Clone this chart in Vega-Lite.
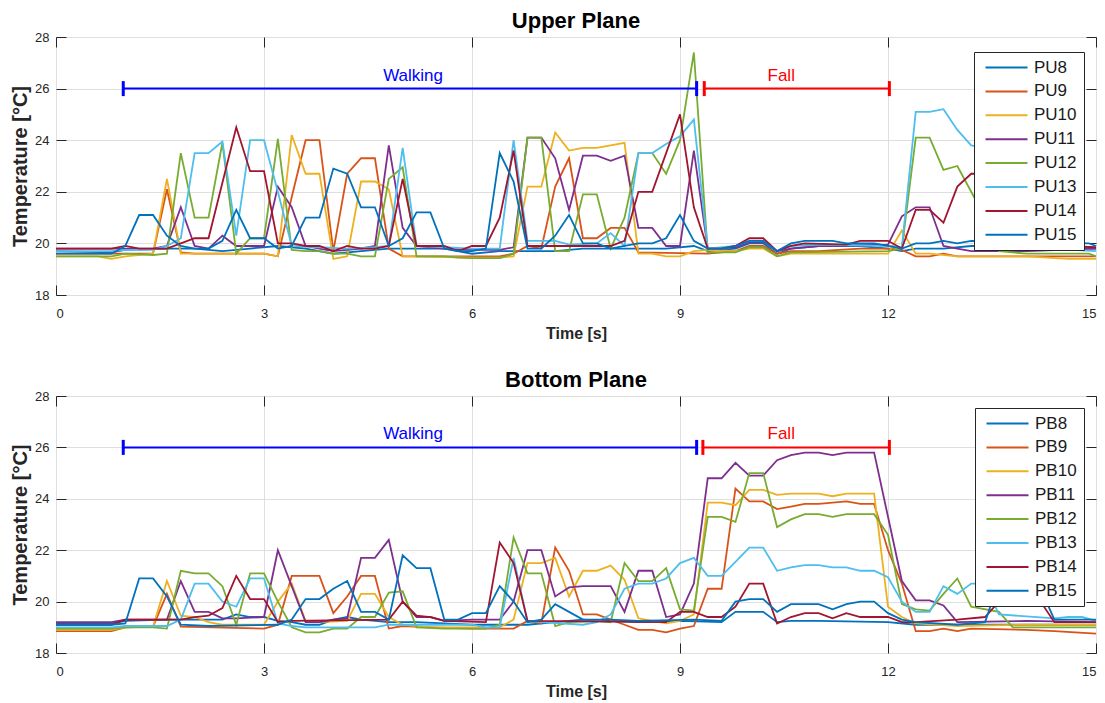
{
"$schema": "https://vega.github.io/schema/vega-lite/v6.json",
"background": "white",
"padding": {"left": 10, "top": 9, "right": 8, "bottom": 4},
"spacing": 26,
"config": {
  "font": "Liberation Sans",
  "view": {"stroke": "#262626", "strokeWidth": 1},
  "axis": {"labelFont": "Liberation Sans", "labelFontSize": 13, "labelColor": "#262626", "titleFont": "Liberation Sans", "titleFontWeight": "bold", "titleColor": "#262626", "gridColor": "#DFDFDF", "gridWidth": 1, "domain": false, "ticks": true, "tickSize": -10, "tickColor": "#262626", "tickWidth": 1},
  "axisX": {"labelPadding": 22, "titleFontSize": 16, "titlePadding": 5, "format": "d"},
  "axisY": {"labelPadding": 17, "titleFontSize": 20, "titlePadding": 4, "format": "d"},
  "title": {"font": "Liberation Sans", "fontSize": 22, "fontWeight": "bold", "color": "#000000", "offset": -1.5, "anchor": "middle"},
  "legend": {"title": null, "orient": "none", "fillColor": "#FFFFFF", "strokeColor": "#262626", "padding": 7, "cornerRadius": 0, "symbolType": "M-3,0H3", "symbolSize": 196, "symbolStrokeWidth": 2, "symbolOffset": 17, "labelOffset": 19, "labelFontSize": 17, "labelFont": "Liberation Sans", "labelColor": "#1A1A1A", "rowPadding": 5.9, "labelLimit": 0}
},
"resolve": {"scale": {"color": "independent"}, "legend": {"color": "independent"}},
"datasets": {
"phasesU": [{"phase": "Walking", "start": 0.97, "end": 9.24, "level": 26, "mid": 5.15}, {"phase": "Fall", "start": 9.35, "end": 12.02, "level": 26, "mid": 10.46}],
"phasesB": [{"phase": "Walking", "start": 0.97, "end": 9.24, "level": 26, "mid": 5.15}, {"phase": "Fall", "start": 9.33, "end": 12.02, "level": 26, "mid": 10.46}],
"upper": [
{"s":"PU8","t":0,"v":19.7},{"s":"PU8","t":0.8,"v":19.65},{"s":"PU8","t":1.0,"v":19.75},{"s":"PU8","t":1.6,"v":19.8},{"s":"PU8","t":2.0,"v":19.8},{"s":"PU8","t":2.4,"v":19.7},{"s":"PU8","t":2.8,"v":19.8},{"s":"PU8","t":3.2,"v":19.9},{"s":"PU8","t":3.6,"v":19.8},{"s":"PU8","t":4.0,"v":19.6},{"s":"PU8","t":4.4,"v":19.7},{"s":"PU8","t":4.8,"v":19.8},{"s":"PU8","t":5.2,"v":19.8},{"s":"PU8","t":5.6,"v":19.8},{"s":"PU8","t":6.0,"v":19.6},{"s":"PU8","t":6.4,"v":19.7},{"s":"PU8","t":6.8,"v":19.7},{"s":"PU8","t":7.2,"v":19.7},{"s":"PU8","t":7.6,"v":19.8},{"s":"PU8","t":8.0,"v":19.8},{"s":"PU8","t":8.4,"v":19.8},{"s":"PU8","t":8.8,"v":19.8},{"s":"PU8","t":9.2,"v":19.9},{"s":"PU8","t":9.4,"v":19.7},{"s":"PU8","t":9.8,"v":19.8},{"s":"PU8","t":10.0,"v":20.0},{"s":"PU8","t":10.2,"v":20.0},{"s":"PU8","t":10.4,"v":19.6},{"s":"PU8","t":10.6,"v":19.8},{"s":"PU8","t":11.0,"v":19.9},{"s":"PU8","t":11.6,"v":19.9},{"s":"PU8","t":12.0,"v":19.8},{"s":"PU8","t":12.2,"v":19.7},{"s":"PU8","t":12.4,"v":19.8},{"s":"PU8","t":12.8,"v":19.8},{"s":"PU8","t":13.2,"v":19.9},{"s":"PU8","t":14.0,"v":19.9},{"s":"PU8","t":15.0,"v":19.8},
{"s":"PU9","t":0,"v":19.6},{"s":"PU9","t":1.4,"v":19.6},{"s":"PU9","t":1.6,"v":22.1},{"s":"PU9","t":1.8,"v":19.65},{"s":"PU9","t":2.0,"v":19.6},{"s":"PU9","t":3.0,"v":19.6},{"s":"PU9","t":3.2,"v":19.5},{"s":"PU9","t":3.4,"v":21.8},{"s":"PU9","t":3.6,"v":24.0},{"s":"PU9","t":3.8,"v":24.0},{"s":"PU9","t":4.0,"v":19.7},{"s":"PU9","t":4.2,"v":22.7},{"s":"PU9","t":4.4,"v":23.3},{"s":"PU9","t":4.6,"v":23.3},{"s":"PU9","t":4.8,"v":19.8},{"s":"PU9","t":5.0,"v":19.5},{"s":"PU9","t":6.4,"v":19.5},{"s":"PU9","t":6.6,"v":19.6},{"s":"PU9","t":6.8,"v":19.9},{"s":"PU9","t":7.0,"v":19.8},{"s":"PU9","t":7.2,"v":22.2},{"s":"PU9","t":7.4,"v":23.3},{"s":"PU9","t":7.6,"v":20.2},{"s":"PU9","t":7.8,"v":20.2},{"s":"PU9","t":8.0,"v":20.6},{"s":"PU9","t":8.2,"v":20.6},{"s":"PU9","t":8.4,"v":19.65},{"s":"PU9","t":9.4,"v":19.6},{"s":"PU9","t":9.8,"v":19.7},{"s":"PU9","t":10.0,"v":19.9},{"s":"PU9","t":10.2,"v":19.9},{"s":"PU9","t":10.4,"v":19.6},{"s":"PU9","t":10.6,"v":19.7},{"s":"PU9","t":11.0,"v":19.7},{"s":"PU9","t":11.6,"v":19.8},{"s":"PU9","t":12.0,"v":19.8},{"s":"PU9","t":12.2,"v":19.75},{"s":"PU9","t":12.4,"v":19.5},{"s":"PU9","t":12.6,"v":19.5},{"s":"PU9","t":12.8,"v":19.6},{"s":"PU9","t":13.0,"v":19.5},{"s":"PU9","t":15.0,"v":19.5},
{"s":"PU10","t":0,"v":19.5},{"s":"PU10","t":0.6,"v":19.5},{"s":"PU10","t":0.8,"v":19.4},{"s":"PU10","t":1.0,"v":19.5},{"s":"PU10","t":1.4,"v":19.6},{"s":"PU10","t":1.6,"v":22.5},{"s":"PU10","t":1.8,"v":19.6},{"s":"PU10","t":3.0,"v":19.6},{"s":"PU10","t":3.2,"v":19.5},{"s":"PU10","t":3.4,"v":24.2},{"s":"PU10","t":3.6,"v":22.7},{"s":"PU10","t":3.8,"v":22.7},{"s":"PU10","t":4.0,"v":19.4},{"s":"PU10","t":4.2,"v":19.5},{"s":"PU10","t":4.4,"v":22.4},{"s":"PU10","t":4.6,"v":22.4},{"s":"PU10","t":4.8,"v":22.1},{"s":"PU10","t":5.0,"v":19.5},{"s":"PU10","t":5.2,"v":19.5},{"s":"PU10","t":6.0,"v":19.45},{"s":"PU10","t":6.4,"v":19.45},{"s":"PU10","t":6.6,"v":19.5},{"s":"PU10","t":6.8,"v":22.2},{"s":"PU10","t":7.0,"v":22.2},{"s":"PU10","t":7.2,"v":24.3},{"s":"PU10","t":7.4,"v":23.6},{"s":"PU10","t":7.6,"v":23.7},{"s":"PU10","t":7.8,"v":23.7},{"s":"PU10","t":8.0,"v":23.8},{"s":"PU10","t":8.2,"v":23.9},{"s":"PU10","t":8.4,"v":19.6},{"s":"PU10","t":8.6,"v":19.6},{"s":"PU10","t":8.8,"v":19.5},{"s":"PU10","t":9.0,"v":19.5},{"s":"PU10","t":9.2,"v":19.7},{"s":"PU10","t":9.4,"v":19.75},{"s":"PU10","t":9.8,"v":19.7},{"s":"PU10","t":10.0,"v":19.8},{"s":"PU10","t":10.2,"v":19.8},{"s":"PU10","t":10.4,"v":19.5},{"s":"PU10","t":10.6,"v":19.6},{"s":"PU10","t":12.0,"v":19.6},{"s":"PU10","t":12.2,"v":20.5},{"s":"PU10","t":12.4,"v":19.6},{"s":"PU10","t":12.6,"v":19.6},{"s":"PU10","t":13.0,"v":19.5},{"s":"PU10","t":14.0,"v":19.5},{"s":"PU10","t":14.6,"v":19.4},{"s":"PU10","t":15.0,"v":19.4},
{"s":"PU11","t":0,"v":19.8},{"s":"PU11","t":1.4,"v":19.8},{"s":"PU11","t":1.6,"v":19.9},{"s":"PU11","t":1.8,"v":21.4},{"s":"PU11","t":2.0,"v":19.9},{"s":"PU11","t":2.2,"v":19.8},{"s":"PU11","t":2.4,"v":20.3},{"s":"PU11","t":2.6,"v":19.9},{"s":"PU11","t":3.0,"v":19.9},{"s":"PU11","t":3.2,"v":22.2},{"s":"PU11","t":3.4,"v":21.4},{"s":"PU11","t":3.6,"v":19.9},{"s":"PU11","t":3.8,"v":19.8},{"s":"PU11","t":4.0,"v":19.7},{"s":"PU11","t":4.4,"v":19.8},{"s":"PU11","t":4.6,"v":19.9},{"s":"PU11","t":4.8,"v":23.8},{"s":"PU11","t":5.0,"v":20.6},{"s":"PU11","t":5.2,"v":19.9},{"s":"PU11","t":5.6,"v":19.8},{"s":"PU11","t":6.0,"v":19.75},{"s":"PU11","t":6.4,"v":19.75},{"s":"PU11","t":6.6,"v":19.85},{"s":"PU11","t":6.8,"v":24.1},{"s":"PU11","t":7.0,"v":24.1},{"s":"PU11","t":7.2,"v":23.3},{"s":"PU11","t":7.4,"v":21.3},{"s":"PU11","t":7.6,"v":23.4},{"s":"PU11","t":7.8,"v":23.4},{"s":"PU11","t":8.0,"v":23.2},{"s":"PU11","t":8.2,"v":23.4},{"s":"PU11","t":8.4,"v":20.6},{"s":"PU11","t":8.6,"v":20.6},{"s":"PU11","t":8.8,"v":19.9},{"s":"PU11","t":9.0,"v":19.9},{"s":"PU11","t":9.2,"v":23.6},{"s":"PU11","t":9.4,"v":19.8},{"s":"PU11","t":9.8,"v":19.85},{"s":"PU11","t":10.0,"v":20.05},{"s":"PU11","t":10.2,"v":20.05},{"s":"PU11","t":10.4,"v":19.7},{"s":"PU11","t":10.6,"v":19.8},{"s":"PU11","t":11.0,"v":19.9},{"s":"PU11","t":12.0,"v":19.95},{"s":"PU11","t":12.2,"v":21.05},{"s":"PU11","t":12.4,"v":21.4},{"s":"PU11","t":12.6,"v":21.4},{"s":"PU11","t":12.8,"v":19.9},{"s":"PU11","t":13.0,"v":19.8},{"s":"PU11","t":13.2,"v":19.7},{"s":"PU11","t":14.0,"v":19.7},{"s":"PU11","t":15.0,"v":19.8},
{"s":"PU12","t":0,"v":19.5},{"s":"PU12","t":0.8,"v":19.5},{"s":"PU12","t":1.0,"v":19.6},{"s":"PU12","t":1.4,"v":19.55},{"s":"PU12","t":1.6,"v":19.6},{"s":"PU12","t":1.8,"v":23.5},{"s":"PU12","t":2.0,"v":21.0},{"s":"PU12","t":2.2,"v":21.0},{"s":"PU12","t":2.4,"v":23.9},{"s":"PU12","t":2.6,"v":19.6},{"s":"PU12","t":2.8,"v":20.2},{"s":"PU12","t":3.0,"v":20.2},{"s":"PU12","t":3.2,"v":24.05},{"s":"PU12","t":3.4,"v":19.75},{"s":"PU12","t":3.6,"v":19.7},{"s":"PU12","t":3.8,"v":19.7},{"s":"PU12","t":4.0,"v":19.6},{"s":"PU12","t":4.2,"v":19.6},{"s":"PU12","t":4.4,"v":19.5},{"s":"PU12","t":4.6,"v":19.5},{"s":"PU12","t":4.8,"v":22.5},{"s":"PU12","t":5.0,"v":22.95},{"s":"PU12","t":5.2,"v":19.5},{"s":"PU12","t":5.6,"v":19.5},{"s":"PU12","t":5.8,"v":19.45},{"s":"PU12","t":6.0,"v":19.43},{"s":"PU12","t":6.4,"v":19.43},{"s":"PU12","t":6.6,"v":19.6},{"s":"PU12","t":6.8,"v":24.1},{"s":"PU12","t":7.0,"v":24.1},{"s":"PU12","t":7.2,"v":19.7},{"s":"PU12","t":7.4,"v":19.7},{"s":"PU12","t":7.6,"v":21.9},{"s":"PU12","t":7.8,"v":21.9},{"s":"PU12","t":8.0,"v":19.8},{"s":"PU12","t":8.2,"v":21.0},{"s":"PU12","t":8.4,"v":23.5},{"s":"PU12","t":8.6,"v":23.5},{"s":"PU12","t":8.8,"v":22.7},{"s":"PU12","t":9.0,"v":24.0},{"s":"PU12","t":9.2,"v":27.4},{"s":"PU12","t":9.4,"v":19.65},{"s":"PU12","t":9.8,"v":19.65},{"s":"PU12","t":10.0,"v":19.85},{"s":"PU12","t":10.2,"v":19.85},{"s":"PU12","t":10.4,"v":19.5},{"s":"PU12","t":10.6,"v":19.65},{"s":"PU12","t":12.0,"v":19.7},{"s":"PU12","t":12.2,"v":19.8},{"s":"PU12","t":12.4,"v":24.1},{"s":"PU12","t":12.6,"v":24.1},{"s":"PU12","t":12.8,"v":22.85},{"s":"PU12","t":13.0,"v":23.0},{"s":"PU12","t":13.2,"v":22.0},{"s":"PU12","t":13.4,"v":21.0},{"s":"PU12","t":13.6,"v":19.7},{"s":"PU12","t":14.0,"v":19.6},{"s":"PU12","t":14.9,"v":19.6},{"s":"PU12","t":15.0,"v":19.5},
{"s":"PU13","t":0,"v":19.7},{"s":"PU13","t":0.8,"v":19.7},{"s":"PU13","t":1.0,"v":19.75},{"s":"PU13","t":1.4,"v":19.75},{"s":"PU13","t":1.6,"v":19.9},{"s":"PU13","t":1.8,"v":20.2},{"s":"PU13","t":2.0,"v":23.5},{"s":"PU13","t":2.2,"v":23.5},{"s":"PU13","t":2.4,"v":23.95},{"s":"PU13","t":2.6,"v":20.3},{"s":"PU13","t":2.8,"v":24.0},{"s":"PU13","t":3.0,"v":24.0},{"s":"PU13","t":3.2,"v":22.0},{"s":"PU13","t":3.4,"v":19.9},{"s":"PU13","t":3.8,"v":19.85},{"s":"PU13","t":4.2,"v":19.8},{"s":"PU13","t":4.6,"v":19.85},{"s":"PU13","t":4.8,"v":19.9},{"s":"PU13","t":5.0,"v":23.7},{"s":"PU13","t":5.2,"v":19.9},{"s":"PU13","t":5.6,"v":19.85},{"s":"PU13","t":6.0,"v":19.8},{"s":"PU13","t":6.4,"v":19.8},{"s":"PU13","t":6.6,"v":24.0},{"s":"PU13","t":6.8,"v":20.1},{"s":"PU13","t":7.2,"v":20.1},{"s":"PU13","t":7.4,"v":19.95},{"s":"PU13","t":7.8,"v":20.0},{"s":"PU13","t":8.0,"v":20.4},{"s":"PU13","t":8.2,"v":19.9},{"s":"PU13","t":8.4,"v":23.5},{"s":"PU13","t":8.6,"v":23.5},{"s":"PU13","t":8.8,"v":23.85},{"s":"PU13","t":9.0,"v":24.15},{"s":"PU13","t":9.2,"v":24.8},{"s":"PU13","t":9.4,"v":19.8},{"s":"PU13","t":9.8,"v":19.9},{"s":"PU13","t":10.0,"v":20.1},{"s":"PU13","t":10.2,"v":20.1},{"s":"PU13","t":10.4,"v":19.7},{"s":"PU13","t":10.6,"v":19.9},{"s":"PU13","t":11.0,"v":19.95},{"s":"PU13","t":12.0,"v":19.9},{"s":"PU13","t":12.2,"v":19.85},{"s":"PU13","t":12.4,"v":25.1},{"s":"PU13","t":12.6,"v":25.1},{"s":"PU13","t":12.8,"v":25.2},{"s":"PU13","t":13.0,"v":24.4},{"s":"PU13","t":13.2,"v":23.8},{"s":"PU13","t":13.4,"v":23.7},{"s":"PU13","t":13.6,"v":19.9},{"s":"PU13","t":15.0,"v":19.7},
{"s":"PU14","t":0,"v":19.8},{"s":"PU14","t":0.8,"v":19.8},{"s":"PU14","t":1.0,"v":19.9},{"s":"PU14","t":1.2,"v":19.8},{"s":"PU14","t":1.6,"v":19.8},{"s":"PU14","t":1.8,"v":20.0},{"s":"PU14","t":2.0,"v":20.2},{"s":"PU14","t":2.2,"v":20.2},{"s":"PU14","t":2.6,"v":24.5},{"s":"PU14","t":2.8,"v":22.8},{"s":"PU14","t":3.0,"v":22.8},{"s":"PU14","t":3.2,"v":20.0},{"s":"PU14","t":3.4,"v":20.0},{"s":"PU14","t":3.6,"v":19.9},{"s":"PU14","t":3.8,"v":19.9},{"s":"PU14","t":4.0,"v":19.7},{"s":"PU14","t":4.2,"v":19.9},{"s":"PU14","t":4.4,"v":19.8},{"s":"PU14","t":4.6,"v":19.8},{"s":"PU14","t":4.8,"v":19.9},{"s":"PU14","t":5.0,"v":22.5},{"s":"PU14","t":5.2,"v":19.9},{"s":"PU14","t":5.6,"v":19.9},{"s":"PU14","t":5.8,"v":19.7},{"s":"PU14","t":6.0,"v":19.9},{"s":"PU14","t":6.2,"v":19.9},{"s":"PU14","t":6.4,"v":21.0},{"s":"PU14","t":6.6,"v":23.6},{"s":"PU14","t":6.8,"v":19.9},{"s":"PU14","t":8.0,"v":19.9},{"s":"PU14","t":8.2,"v":20.1},{"s":"PU14","t":8.4,"v":22.0},{"s":"PU14","t":8.6,"v":22.0},{"s":"PU14","t":9.0,"v":25.0},{"s":"PU14","t":9.2,"v":21.4},{"s":"PU14","t":9.4,"v":19.8},{"s":"PU14","t":9.6,"v":19.8},{"s":"PU14","t":9.8,"v":19.9},{"s":"PU14","t":10.0,"v":20.2},{"s":"PU14","t":10.2,"v":20.2},{"s":"PU14","t":10.4,"v":19.7},{"s":"PU14","t":10.6,"v":19.9},{"s":"PU14","t":10.8,"v":20.0},{"s":"PU14","t":11.4,"v":19.95},{"s":"PU14","t":11.6,"v":20.1},{"s":"PU14","t":12.0,"v":20.1},{"s":"PU14","t":12.2,"v":19.8},{"s":"PU14","t":12.4,"v":21.3},{"s":"PU14","t":12.6,"v":21.3},{"s":"PU14","t":12.8,"v":20.8},{"s":"PU14","t":13.0,"v":22.2},{"s":"PU14","t":13.2,"v":22.7},{"s":"PU14","t":13.4,"v":22.7},{"s":"PU14","t":13.6,"v":20.0},{"s":"PU14","t":15.0,"v":19.85},
{"s":"PU15","t":0,"v":19.6},{"s":"PU15","t":0.8,"v":19.6},{"s":"PU15","t":1.0,"v":19.9},{"s":"PU15","t":1.2,"v":21.1},{"s":"PU15","t":1.4,"v":21.1},{"s":"PU15","t":1.6,"v":20.3},{"s":"PU15","t":1.8,"v":19.9},{"s":"PU15","t":2.0,"v":19.8},{"s":"PU15","t":2.2,"v":19.8},{"s":"PU15","t":2.4,"v":20.1},{"s":"PU15","t":2.6,"v":21.3},{"s":"PU15","t":2.8,"v":20.2},{"s":"PU15","t":3.0,"v":20.2},{"s":"PU15","t":3.2,"v":19.8},{"s":"PU15","t":3.4,"v":19.9},{"s":"PU15","t":3.6,"v":21.0},{"s":"PU15","t":3.8,"v":21.0},{"s":"PU15","t":4.0,"v":22.9},{"s":"PU15","t":4.2,"v":22.7},{"s":"PU15","t":4.4,"v":21.4},{"s":"PU15","t":4.6,"v":21.4},{"s":"PU15","t":4.8,"v":19.9},{"s":"PU15","t":5.0,"v":20.2},{"s":"PU15","t":5.2,"v":21.2},{"s":"PU15","t":5.4,"v":21.2},{"s":"PU15","t":5.6,"v":19.8},{"s":"PU15","t":5.8,"v":19.7},{"s":"PU15","t":6.0,"v":19.7},{"s":"PU15","t":6.2,"v":19.8},{"s":"PU15","t":6.4,"v":23.5},{"s":"PU15","t":6.6,"v":22.4},{"s":"PU15","t":6.8,"v":19.8},{"s":"PU15","t":7.0,"v":19.8},{"s":"PU15","t":7.2,"v":20.3},{"s":"PU15","t":7.4,"v":21.1},{"s":"PU15","t":7.6,"v":20.0},{"s":"PU15","t":7.8,"v":20.0},{"s":"PU15","t":8.0,"v":19.8},{"s":"PU15","t":8.2,"v":19.9},{"s":"PU15","t":8.4,"v":20.0},{"s":"PU15","t":8.6,"v":20.0},{"s":"PU15","t":8.8,"v":20.2},{"s":"PU15","t":9.0,"v":21.1},{"s":"PU15","t":9.2,"v":20.1},{"s":"PU15","t":9.4,"v":19.8},{"s":"PU15","t":9.6,"v":19.8},{"s":"PU15","t":9.8,"v":19.9},{"s":"PU15","t":10.0,"v":20.1},{"s":"PU15","t":10.2,"v":20.1},{"s":"PU15","t":10.4,"v":19.7},{"s":"PU15","t":10.6,"v":20.0},{"s":"PU15","t":10.8,"v":20.1},{"s":"PU15","t":11.2,"v":20.1},{"s":"PU15","t":11.4,"v":20.0},{"s":"PU15","t":11.8,"v":20.0},{"s":"PU15","t":12.0,"v":19.9},{"s":"PU15","t":12.2,"v":19.8},{"s":"PU15","t":12.4,"v":20.0},{"s":"PU15","t":12.6,"v":20.0},{"s":"PU15","t":12.8,"v":20.1},{"s":"PU15","t":13.0,"v":20.0},{"s":"PU15","t":13.2,"v":20.1},{"s":"PU15","t":14.9,"v":20.0},{"s":"PU15","t":15.0,"v":19.9}
],
"lower": [
{"s":"PB8","t":0,"v":19.15},{"s":"PB8","t":0.8,"v":19.15},{"s":"PB8","t":1.0,"v":19.25},{"s":"PB8","t":1.6,"v":19.3},{"s":"PB8","t":2.4,"v":19.3},{"s":"PB8","t":2.6,"v":19.5},{"s":"PB8","t":2.8,"v":19.4},{"s":"PB8","t":3.0,"v":19.4},{"s":"PB8","t":3.2,"v":19.25},{"s":"PB8","t":3.4,"v":19.2},{"s":"PB8","t":3.6,"v":19.1},{"s":"PB8","t":3.8,"v":19.1},{"s":"PB8","t":4.0,"v":19.3},{"s":"PB8","t":4.2,"v":19.4},{"s":"PB8","t":4.4,"v":19.3},{"s":"PB8","t":4.8,"v":19.2},{"s":"PB8","t":5.2,"v":19.2},{"s":"PB8","t":6.0,"v":19.1},{"s":"PB8","t":6.8,"v":19.1},{"s":"PB8","t":7.2,"v":19.2},{"s":"PB8","t":7.6,"v":19.3},{"s":"PB8","t":8.0,"v":19.25},{"s":"PB8","t":8.4,"v":19.2},{"s":"PB8","t":9.0,"v":19.25},{"s":"PB8","t":9.6,"v":19.2},{"s":"PB8","t":9.8,"v":19.6},{"s":"PB8","t":10.2,"v":19.6},{"s":"PB8","t":10.4,"v":19.2},{"s":"PB8","t":10.6,"v":19.25},{"s":"PB8","t":11.0,"v":19.25},{"s":"PB8","t":12.0,"v":19.2},{"s":"PB8","t":12.4,"v":19.1},{"s":"PB8","t":15.0,"v":19.1},
{"s":"PB9","t":0,"v":18.85},{"s":"PB9","t":0.8,"v":18.85},{"s":"PB9","t":1.0,"v":19.0},{"s":"PB9","t":1.4,"v":19.03},{"s":"PB9","t":1.6,"v":20.3},{"s":"PB9","t":1.8,"v":19.03},{"s":"PB9","t":3.0,"v":18.95},{"s":"PB9","t":3.2,"v":19.1},{"s":"PB9","t":3.4,"v":21.0},{"s":"PB9","t":3.8,"v":21.0},{"s":"PB9","t":4.0,"v":19.55},{"s":"PB9","t":4.2,"v":20.2},{"s":"PB9","t":4.4,"v":21.0},{"s":"PB9","t":4.6,"v":21.0},{"s":"PB9","t":4.8,"v":18.95},{"s":"PB9","t":5.0,"v":19.05},{"s":"PB9","t":5.4,"v":19.0},{"s":"PB9","t":6.0,"v":18.95},{"s":"PB9","t":6.6,"v":18.95},{"s":"PB9","t":6.8,"v":19.25},{"s":"PB9","t":7.0,"v":19.15},{"s":"PB9","t":7.2,"v":22.1},{"s":"PB9","t":7.4,"v":21.2},{"s":"PB9","t":7.6,"v":19.5},{"s":"PB9","t":7.8,"v":19.5},{"s":"PB9","t":8.0,"v":19.3},{"s":"PB9","t":8.2,"v":19.1},{"s":"PB9","t":8.4,"v":18.9},{"s":"PB9","t":8.6,"v":18.9},{"s":"PB9","t":8.8,"v":18.8},{"s":"PB9","t":9.0,"v":18.95},{"s":"PB9","t":9.2,"v":19.05},{"s":"PB9","t":9.4,"v":20.5},{"s":"PB9","t":9.6,"v":20.5},{"s":"PB9","t":9.8,"v":24.4},{"s":"PB9","t":10.0,"v":23.9},{"s":"PB9","t":10.2,"v":23.9},{"s":"PB9","t":10.4,"v":23.6},{"s":"PB9","t":10.6,"v":23.7},{"s":"PB9","t":10.8,"v":23.8},{"s":"PB9","t":11.0,"v":23.8},{"s":"PB9","t":11.2,"v":23.85},{"s":"PB9","t":11.4,"v":23.9},{"s":"PB9","t":11.6,"v":23.8},{"s":"PB9","t":11.8,"v":23.8},{"s":"PB9","t":12.0,"v":22.0},{"s":"PB9","t":12.2,"v":20.7},{"s":"PB9","t":12.4,"v":18.85},{"s":"PB9","t":12.6,"v":18.85},{"s":"PB9","t":12.8,"v":18.95},{"s":"PB9","t":13.0,"v":18.85},{"s":"PB9","t":13.2,"v":18.95},{"s":"PB9","t":14.0,"v":18.9},{"s":"PB9","t":14.4,"v":18.85},{"s":"PB9","t":15.0,"v":18.75},
{"s":"PB10","t":0,"v":18.9},{"s":"PB10","t":0.8,"v":18.9},{"s":"PB10","t":1.0,"v":19.0},{"s":"PB10","t":1.4,"v":19.03},{"s":"PB10","t":1.6,"v":20.8},{"s":"PB10","t":1.8,"v":19.45},{"s":"PB10","t":2.0,"v":19.4},{"s":"PB10","t":2.2,"v":19.2},{"s":"PB10","t":2.4,"v":19.1},{"s":"PB10","t":3.0,"v":19.1},{"s":"PB10","t":3.2,"v":20.0},{"s":"PB10","t":3.4,"v":20.7},{"s":"PB10","t":3.6,"v":19.25},{"s":"PB10","t":3.8,"v":19.2},{"s":"PB10","t":4.2,"v":19.25},{"s":"PB10","t":4.4,"v":20.3},{"s":"PB10","t":4.6,"v":20.3},{"s":"PB10","t":4.8,"v":19.4},{"s":"PB10","t":5.0,"v":19.1},{"s":"PB10","t":5.4,"v":19.0},{"s":"PB10","t":6.4,"v":19.0},{"s":"PB10","t":6.6,"v":19.3},{"s":"PB10","t":6.8,"v":21.5},{"s":"PB10","t":7.0,"v":21.5},{"s":"PB10","t":7.2,"v":21.7},{"s":"PB10","t":7.4,"v":20.2},{"s":"PB10","t":7.6,"v":21.2},{"s":"PB10","t":7.8,"v":21.2},{"s":"PB10","t":8.0,"v":21.4},{"s":"PB10","t":8.2,"v":20.85},{"s":"PB10","t":8.4,"v":19.35},{"s":"PB10","t":8.6,"v":19.25},{"s":"PB10","t":8.8,"v":19.15},{"s":"PB10","t":9.0,"v":19.25},{"s":"PB10","t":9.2,"v":19.5},{"s":"PB10","t":9.4,"v":23.85},{"s":"PB10","t":9.6,"v":23.85},{"s":"PB10","t":9.8,"v":23.75},{"s":"PB10","t":10.0,"v":24.35},{"s":"PB10","t":10.2,"v":24.35},{"s":"PB10","t":10.4,"v":24.15},{"s":"PB10","t":10.6,"v":24.2},{"s":"PB10","t":11.0,"v":24.2},{"s":"PB10","t":11.2,"v":24.1},{"s":"PB10","t":11.4,"v":24.2},{"s":"PB10","t":11.8,"v":24.2},{"s":"PB10","t":12.0,"v":19.8},{"s":"PB10","t":12.2,"v":19.4},{"s":"PB10","t":12.4,"v":19.15},{"s":"PB10","t":13.0,"v":19.05},{"s":"PB10","t":14.0,"v":19.1},{"s":"PB10","t":15.0,"v":19.1},
{"s":"PB11","t":0,"v":19.2},{"s":"PB11","t":0.8,"v":19.2},{"s":"PB11","t":1.0,"v":19.3},{"s":"PB11","t":1.6,"v":19.3},{"s":"PB11","t":1.8,"v":20.8},{"s":"PB11","t":2.0,"v":19.6},{"s":"PB11","t":2.2,"v":19.6},{"s":"PB11","t":2.4,"v":19.35},{"s":"PB11","t":2.6,"v":19.35},{"s":"PB11","t":3.0,"v":19.4},{"s":"PB11","t":3.2,"v":22.0},{"s":"PB11","t":3.4,"v":20.6},{"s":"PB11","t":3.6,"v":19.2},{"s":"PB11","t":3.8,"v":19.2},{"s":"PB11","t":4.0,"v":19.3},{"s":"PB11","t":4.2,"v":19.35},{"s":"PB11","t":4.4,"v":21.7},{"s":"PB11","t":4.6,"v":21.7},{"s":"PB11","t":4.8,"v":22.4},{"s":"PB11","t":5.0,"v":20.0},{"s":"PB11","t":5.2,"v":19.4},{"s":"PB11","t":5.4,"v":19.4},{"s":"PB11","t":5.6,"v":19.25},{"s":"PB11","t":6.0,"v":19.3},{"s":"PB11","t":6.4,"v":19.3},{"s":"PB11","t":6.6,"v":20.0},{"s":"PB11","t":6.8,"v":22.0},{"s":"PB11","t":7.0,"v":22.0},{"s":"PB11","t":7.2,"v":20.2},{"s":"PB11","t":7.4,"v":20.55},{"s":"PB11","t":7.6,"v":20.6},{"s":"PB11","t":8.0,"v":20.6},{"s":"PB11","t":8.2,"v":19.6},{"s":"PB11","t":8.4,"v":21.2},{"s":"PB11","t":8.6,"v":21.2},{"s":"PB11","t":8.8,"v":19.4},{"s":"PB11","t":9.0,"v":19.5},{"s":"PB11","t":9.2,"v":20.7},{"s":"PB11","t":9.4,"v":24.8},{"s":"PB11","t":9.6,"v":24.8},{"s":"PB11","t":9.8,"v":25.4},{"s":"PB11","t":10.0,"v":24.9},{"s":"PB11","t":10.2,"v":24.9},{"s":"PB11","t":10.4,"v":25.5},{"s":"PB11","t":10.6,"v":25.7},{"s":"PB11","t":10.8,"v":25.8},{"s":"PB11","t":11.0,"v":25.8},{"s":"PB11","t":11.2,"v":25.7},{"s":"PB11","t":11.4,"v":25.8},{"s":"PB11","t":11.8,"v":25.8},{"s":"PB11","t":12.0,"v":23.3},{"s":"PB11","t":12.2,"v":20.8},{"s":"PB11","t":12.4,"v":20.05},{"s":"PB11","t":12.6,"v":20.05},{"s":"PB11","t":12.8,"v":19.85},{"s":"PB11","t":13.0,"v":19.2},{"s":"PB11","t":14.0,"v":19.25},{"s":"PB11","t":15.0,"v":19.2},
{"s":"PB12","t":0,"v":18.95},{"s":"PB12","t":0.8,"v":18.95},{"s":"PB12","t":1.0,"v":19.0},{"s":"PB12","t":1.4,"v":19.0},{"s":"PB12","t":1.6,"v":18.95},{"s":"PB12","t":1.8,"v":21.2},{"s":"PB12","t":2.0,"v":21.1},{"s":"PB12","t":2.2,"v":21.1},{"s":"PB12","t":2.4,"v":20.6},{"s":"PB12","t":2.6,"v":19.1},{"s":"PB12","t":2.8,"v":21.1},{"s":"PB12","t":3.0,"v":21.1},{"s":"PB12","t":3.2,"v":20.0},{"s":"PB12","t":3.4,"v":19.0},{"s":"PB12","t":3.6,"v":18.8},{"s":"PB12","t":3.8,"v":18.8},{"s":"PB12","t":4.0,"v":18.95},{"s":"PB12","t":4.2,"v":18.95},{"s":"PB12","t":4.4,"v":19.4},{"s":"PB12","t":4.6,"v":19.4},{"s":"PB12","t":4.8,"v":20.35},{"s":"PB12","t":5.0,"v":20.4},{"s":"PB12","t":5.2,"v":19.0},{"s":"PB12","t":5.6,"v":18.95},{"s":"PB12","t":6.2,"v":18.95},{"s":"PB12","t":6.4,"v":19.1},{"s":"PB12","t":6.6,"v":22.5},{"s":"PB12","t":6.8,"v":21.1},{"s":"PB12","t":7.0,"v":21.1},{"s":"PB12","t":7.2,"v":19.05},{"s":"PB12","t":7.4,"v":19.2},{"s":"PB12","t":7.8,"v":19.25},{"s":"PB12","t":8.0,"v":19.2},{"s":"PB12","t":8.2,"v":21.5},{"s":"PB12","t":8.4,"v":20.8},{"s":"PB12","t":8.6,"v":20.8},{"s":"PB12","t":8.8,"v":21.3},{"s":"PB12","t":9.0,"v":19.7},{"s":"PB12","t":9.2,"v":19.65},{"s":"PB12","t":9.4,"v":23.3},{"s":"PB12","t":9.6,"v":23.3},{"s":"PB12","t":9.8,"v":23.1},{"s":"PB12","t":10.0,"v":25.0},{"s":"PB12","t":10.2,"v":25.0},{"s":"PB12","t":10.4,"v":22.9},{"s":"PB12","t":10.6,"v":23.2},{"s":"PB12","t":10.8,"v":23.4},{"s":"PB12","t":11.0,"v":23.4},{"s":"PB12","t":11.2,"v":23.3},{"s":"PB12","t":11.4,"v":23.4},{"s":"PB12","t":11.8,"v":23.4},{"s":"PB12","t":12.0,"v":22.6},{"s":"PB12","t":12.2,"v":19.9},{"s":"PB12","t":12.4,"v":19.7},{"s":"PB12","t":12.6,"v":19.65},{"s":"PB12","t":12.8,"v":20.3},{"s":"PB12","t":13.0,"v":20.9},{"s":"PB12","t":13.2,"v":19.8},{"s":"PB12","t":13.6,"v":19.6},{"s":"PB12","t":13.8,"v":19.0},{"s":"PB12","t":15.0,"v":19.0},
{"s":"PB13","t":0,"v":19.0},{"s":"PB13","t":0.8,"v":19.0},{"s":"PB13","t":1.0,"v":19.05},{"s":"PB13","t":1.6,"v":19.05},{"s":"PB13","t":1.8,"v":19.3},{"s":"PB13","t":2.0,"v":20.7},{"s":"PB13","t":2.2,"v":20.7},{"s":"PB13","t":2.4,"v":20.0},{"s":"PB13","t":2.6,"v":19.8},{"s":"PB13","t":2.8,"v":20.9},{"s":"PB13","t":3.0,"v":20.9},{"s":"PB13","t":3.2,"v":19.15},{"s":"PB13","t":3.4,"v":19.05},{"s":"PB13","t":3.6,"v":19.0},{"s":"PB13","t":4.6,"v":19.0},{"s":"PB13","t":4.8,"v":19.1},{"s":"PB13","t":6.0,"v":19.1},{"s":"PB13","t":6.2,"v":19.0},{"s":"PB13","t":6.4,"v":19.0},{"s":"PB13","t":6.6,"v":21.7},{"s":"PB13","t":6.8,"v":19.25},{"s":"PB13","t":7.0,"v":19.2},{"s":"PB13","t":7.6,"v":19.1},{"s":"PB13","t":7.8,"v":19.2},{"s":"PB13","t":8.0,"v":19.5},{"s":"PB13","t":8.2,"v":20.5},{"s":"PB13","t":8.4,"v":20.7},{"s":"PB13","t":8.6,"v":20.7},{"s":"PB13","t":8.8,"v":20.9},{"s":"PB13","t":9.0,"v":21.5},{"s":"PB13","t":9.2,"v":21.7},{"s":"PB13","t":9.4,"v":21.0},{"s":"PB13","t":9.6,"v":21.0},{"s":"PB13","t":9.8,"v":21.55},{"s":"PB13","t":10.0,"v":22.1},{"s":"PB13","t":10.2,"v":22.1},{"s":"PB13","t":10.4,"v":21.2},{"s":"PB13","t":10.6,"v":21.33},{"s":"PB13","t":10.8,"v":21.42},{"s":"PB13","t":11.0,"v":21.42},{"s":"PB13","t":11.2,"v":21.33},{"s":"PB13","t":11.4,"v":21.33},{"s":"PB13","t":11.6,"v":21.2},{"s":"PB13","t":11.8,"v":21.2},{"s":"PB13","t":12.0,"v":20.95},{"s":"PB13","t":12.2,"v":20.0},{"s":"PB13","t":12.4,"v":19.6},{"s":"PB13","t":12.6,"v":19.6},{"s":"PB13","t":12.8,"v":20.6},{"s":"PB13","t":13.0,"v":20.3},{"s":"PB13","t":13.2,"v":20.7},{"s":"PB13","t":13.4,"v":20.7},{"s":"PB13","t":13.6,"v":19.5},{"s":"PB13","t":14.4,"v":19.35},{"s":"PB13","t":14.6,"v":19.4},{"s":"PB13","t":14.8,"v":19.4},{"s":"PB13","t":15.0,"v":19.25},
{"s":"PB14","t":0,"v":19.1},{"s":"PB14","t":0.8,"v":19.1},{"s":"PB14","t":1.0,"v":19.3},{"s":"PB14","t":1.8,"v":19.3},{"s":"PB14","t":2.0,"v":19.4},{"s":"PB14","t":2.2,"v":19.45},{"s":"PB14","t":2.4,"v":19.75},{"s":"PB14","t":2.6,"v":21.0},{"s":"PB14","t":2.8,"v":20.1},{"s":"PB14","t":3.0,"v":20.1},{"s":"PB14","t":3.2,"v":19.2},{"s":"PB14","t":3.4,"v":19.25},{"s":"PB14","t":4.8,"v":19.3},{"s":"PB14","t":5.0,"v":20.0},{"s":"PB14","t":5.2,"v":19.45},{"s":"PB14","t":5.4,"v":19.4},{"s":"PB14","t":5.6,"v":19.25},{"s":"PB14","t":6.2,"v":19.2},{"s":"PB14","t":6.4,"v":22.3},{"s":"PB14","t":6.6,"v":21.5},{"s":"PB14","t":6.8,"v":19.25},{"s":"PB14","t":8.8,"v":19.2},{"s":"PB14","t":9.0,"v":19.6},{"s":"PB14","t":9.2,"v":19.6},{"s":"PB14","t":9.4,"v":19.4},{"s":"PB14","t":9.6,"v":19.4},{"s":"PB14","t":9.8,"v":19.8},{"s":"PB14","t":10.0,"v":20.7},{"s":"PB14","t":10.2,"v":20.7},{"s":"PB14","t":10.4,"v":19.15},{"s":"PB14","t":10.6,"v":19.4},{"s":"PB14","t":10.8,"v":19.55},{"s":"PB14","t":11.0,"v":19.55},{"s":"PB14","t":11.2,"v":19.35},{"s":"PB14","t":11.4,"v":19.55},{"s":"PB14","t":11.6,"v":19.4},{"s":"PB14","t":12.0,"v":19.4},{"s":"PB14","t":12.2,"v":19.2},{"s":"PB14","t":12.4,"v":19.2},{"s":"PB14","t":13.0,"v":19.3},{"s":"PB14","t":13.4,"v":19.4},{"s":"PB14","t":13.6,"v":20.0},{"s":"PB14","t":14.2,"v":20.0},{"s":"PB14","t":14.4,"v":19.2},{"s":"PB14","t":15.0,"v":19.2},
{"s":"PB15","t":0,"v":19.1},{"s":"PB15","t":0.8,"v":19.1},{"s":"PB15","t":1.0,"v":19.15},{"s":"PB15","t":1.2,"v":20.9},{"s":"PB15","t":1.4,"v":20.9},{"s":"PB15","t":1.6,"v":20.2},{"s":"PB15","t":1.8,"v":19.1},{"s":"PB15","t":2.2,"v":19.05},{"s":"PB15","t":3.2,"v":19.1},{"s":"PB15","t":3.4,"v":19.3},{"s":"PB15","t":3.6,"v":20.1},{"s":"PB15","t":3.8,"v":20.1},{"s":"PB15","t":4.0,"v":20.5},{"s":"PB15","t":4.2,"v":20.8},{"s":"PB15","t":4.4,"v":19.6},{"s":"PB15","t":4.6,"v":19.6},{"s":"PB15","t":4.8,"v":19.3},{"s":"PB15","t":5.0,"v":21.8},{"s":"PB15","t":5.2,"v":21.3},{"s":"PB15","t":5.4,"v":21.3},{"s":"PB15","t":5.6,"v":19.3},{"s":"PB15","t":5.8,"v":19.3},{"s":"PB15","t":6.0,"v":19.55},{"s":"PB15","t":6.2,"v":19.55},{"s":"PB15","t":6.4,"v":20.6},{"s":"PB15","t":6.6,"v":20.0},{"s":"PB15","t":6.8,"v":19.2},{"s":"PB15","t":7.0,"v":19.3},{"s":"PB15","t":7.2,"v":19.9},{"s":"PB15","t":7.4,"v":19.6},{"s":"PB15","t":7.6,"v":19.3},{"s":"PB15","t":8.0,"v":19.3},{"s":"PB15","t":8.4,"v":19.25},{"s":"PB15","t":9.2,"v":19.3},{"s":"PB15","t":9.6,"v":19.25},{"s":"PB15","t":9.8,"v":20.0},{"s":"PB15","t":10.0,"v":20.1},{"s":"PB15","t":10.2,"v":20.1},{"s":"PB15","t":10.4,"v":19.6},{"s":"PB15","t":10.6,"v":19.9},{"s":"PB15","t":11.0,"v":19.9},{"s":"PB15","t":11.2,"v":19.7},{"s":"PB15","t":11.4,"v":19.9},{"s":"PB15","t":11.6,"v":20.0},{"s":"PB15","t":11.8,"v":20.0},{"s":"PB15","t":12.0,"v":19.55},{"s":"PB15","t":12.2,"v":19.3},{"s":"PB15","t":12.4,"v":19.2},{"s":"PB15","t":13.0,"v":19.1},{"s":"PB15","t":13.4,"v":19.2},{"s":"PB15","t":13.5,"v":20.0},{"s":"PB15","t":14.3,"v":19.9},{"s":"PB15","t":14.4,"v":19.3},{"s":"PB15","t":15.0,"v":19.3}
]
},
"vconcat": [
{
  "title": {"text": "Upper Plane"},
  "width": 1040, "height": 258,
  "resolve": {"axis": {"x": "independent", "y": "independent"}},
  "layer": [
    {"data": {"name": "upper"}, "mark": {"type": "line", "strokeWidth": 1.8},
     "encoding": {
       "x": {"field": "t", "type": "quantitative", "scale": {"domain": [0, 15], "nice": false}, "axis": {"values": [0, 3, 6, 9, 12, 15], "title": "Time [s]"}},
       "y": {"field": "v", "type": "quantitative", "scale": {"domain": [18, 28], "nice": false, "zero": false}, "axis": {"values": [18, 20, 22, 24, 26, 28], "title": "Temperature [°C]"}},
       "color": {"field": "s", "type": "nominal", "scale": {"domain": ["PU8","PU9","PU10","PU11","PU12","PU13","PU14","PU15"], "range": ["#0072BD","#D95319","#EDB120","#7E2F8E","#77AC30","#4DBEEE","#A2142F","#0072BD"]}, "legend": {"legendX": 918, "legendY": 15}}
     }},
    {"data": {"name": "phasesU"}, "mark": {"type": "rule", "strokeWidth": 2},
     "encoding": {"x": {"field": "start", "type": "quantitative", "axis": {"orient": "top", "values": [0, 3, 6, 9, 12, 15], "labels": false, "grid": false, "title": null}}, "x2": {"field": "end"}, "y": {"field": "level", "type": "quantitative", "axis": {"orient": "right", "values": [18, 20, 22, 24, 26, 28], "labels": false, "grid": false, "title": null}}, "stroke": {"field": "phase", "type": "nominal", "scale": {"domain": ["Walking", "Fall"], "range": ["#0000FF", "#FF0000"]}, "legend": null}}},
    {"data": {"name": "phasesU"}, "mark": {"type": "tick", "orient": "vertical", "size": 15, "thickness": 3, "opacity": 1},
     "encoding": {"x": {"field": "start", "type": "quantitative", "axis": null}, "y": {"field": "level", "type": "quantitative", "axis": null}, "fill": {"field": "phase", "type": "nominal", "scale": {"domain": ["Walking", "Fall"], "range": ["#0000FF", "#FF0000"]}, "legend": null}}},
    {"data": {"name": "phasesU"}, "mark": {"type": "tick", "orient": "vertical", "size": 15, "thickness": 3, "opacity": 1},
     "encoding": {"x": {"field": "end", "type": "quantitative", "axis": null}, "y": {"field": "level", "type": "quantitative", "axis": null}, "fill": {"field": "phase", "type": "nominal", "scale": {"domain": ["Walking", "Fall"], "range": ["#0000FF", "#FF0000"]}, "legend": null}}},
    {"data": {"name": "phasesU"}, "mark": {"type": "text", "fontSize": 17, "font": "Liberation Sans", "baseline": "alphabetic", "dy": -8},
     "encoding": {"x": {"field": "mid", "type": "quantitative", "axis": null}, "y": {"field": "level", "type": "quantitative", "axis": null}, "text": {"field": "phase"}, "fill": {"field": "phase", "type": "nominal", "scale": {"domain": ["Walking", "Fall"], "range": ["#0000FF", "#FF0000"]}, "legend": null}}}
  ]
},
{
  "title": {"text": "Bottom Plane"},
  "width": 1040, "height": 257,
  "resolve": {"axis": {"x": "independent", "y": "independent"}},
  "layer": [
    {"data": {"name": "lower"}, "mark": {"type": "line", "strokeWidth": 1.8},
     "encoding": {
       "x": {"field": "t", "type": "quantitative", "scale": {"domain": [0, 15], "nice": false}, "axis": {"values": [0, 3, 6, 9, 12, 15], "title": "Time [s]"}},
       "y": {"field": "v", "type": "quantitative", "scale": {"domain": [18, 28], "nice": false, "zero": false}, "axis": {"values": [18, 20, 22, 24, 26, 28], "title": "Temperature [°C]"}},
       "color": {"field": "s", "type": "nominal", "scale": {"domain": ["PB8","PB9","PB10","PB11","PB12","PB13","PB14","PB15"], "range": ["#0072BD","#D95319","#EDB120","#7E2F8E","#77AC30","#4DBEEE","#A2142F","#0072BD"]}, "legend": {"legendX": 919, "legendY": 12}}
     }},
    {"data": {"name": "phasesB"}, "mark": {"type": "rule", "strokeWidth": 2},
     "encoding": {"x": {"field": "start", "type": "quantitative", "axis": {"orient": "top", "values": [0, 3, 6, 9, 12, 15], "labels": false, "grid": false, "title": null}}, "x2": {"field": "end"}, "y": {"field": "level", "type": "quantitative", "axis": {"orient": "right", "values": [18, 20, 22, 24, 26, 28], "labels": false, "grid": false, "title": null}}, "stroke": {"field": "phase", "type": "nominal", "scale": {"domain": ["Walking", "Fall"], "range": ["#0000FF", "#FF0000"]}, "legend": null}}},
    {"data": {"name": "phasesB"}, "mark": {"type": "tick", "orient": "vertical", "size": 15, "thickness": 3, "opacity": 1},
     "encoding": {"x": {"field": "start", "type": "quantitative", "axis": null}, "y": {"field": "level", "type": "quantitative", "axis": null}, "fill": {"field": "phase", "type": "nominal", "scale": {"domain": ["Walking", "Fall"], "range": ["#0000FF", "#FF0000"]}, "legend": null}}},
    {"data": {"name": "phasesB"}, "mark": {"type": "tick", "orient": "vertical", "size": 15, "thickness": 3, "opacity": 1},
     "encoding": {"x": {"field": "end", "type": "quantitative", "axis": null}, "y": {"field": "level", "type": "quantitative", "axis": null}, "fill": {"field": "phase", "type": "nominal", "scale": {"domain": ["Walking", "Fall"], "range": ["#0000FF", "#FF0000"]}, "legend": null}}},
    {"data": {"name": "phasesB"}, "mark": {"type": "text", "fontSize": 17, "font": "Liberation Sans", "baseline": "alphabetic", "dy": -8},
     "encoding": {"x": {"field": "mid", "type": "quantitative", "axis": null}, "y": {"field": "level", "type": "quantitative", "axis": null}, "text": {"field": "phase"}, "fill": {"field": "phase", "type": "nominal", "scale": {"domain": ["Walking", "Fall"], "range": ["#0000FF", "#FF0000"]}, "legend": null}}}
  ]
}
]
}
